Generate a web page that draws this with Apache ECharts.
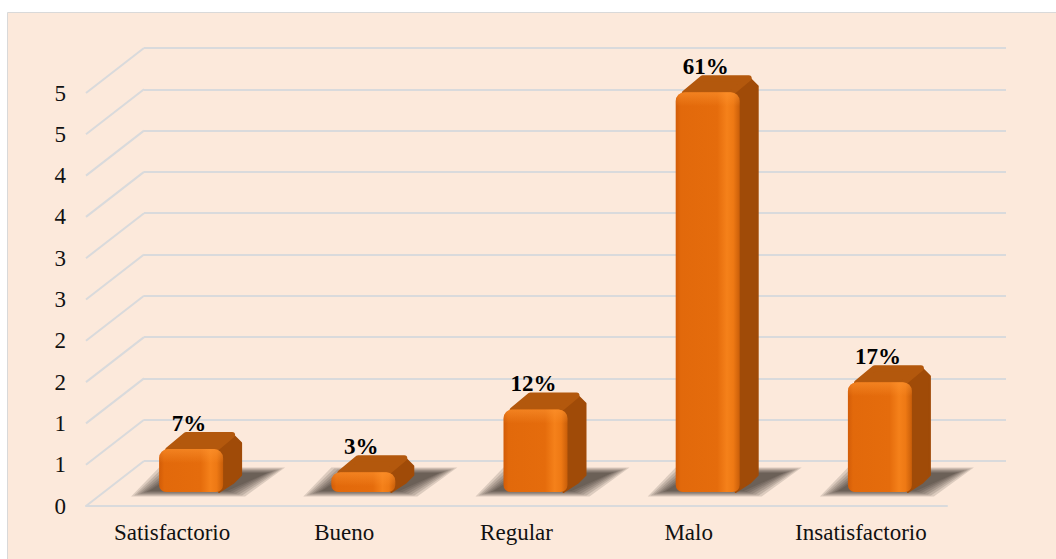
<!DOCTYPE html>
<html>
<head>
<meta charset="utf-8">
<script src="https://cdn.jsdelivr.net/npm/echarts@6/dist/echarts.min.js"></script>
<style>
html,body{margin:0;padding:0;background:#ffffff;}
#chart{width:1056px;height:559px;}
</style>
</head>
<body>
<div id="chart"></div>
<script>
const categories = ['Satisfactorio', 'Bueno', 'Regular', 'Malo', 'Insatisfactorio'];
const values = [0.52, 0.24, 1.0, 4.84, 1.33];
const pctLabels = ['7%', '3%', '12%', '61%', '17%'];
const gridTicks = [0, 0.5, 1, 1.5, 2, 2.5, 3, 3.5, 4, 4.5, 5];

const FONT = 'Liberation Serif, Times New Roman, serif';
const DEPTH_X = 58, DEPTH_Y = 45;      // wall-to-front oblique offset
const BAR_W = 64, SIDE_X = 18, SIDE_Y = -15;

const chart = echarts.init(document.getElementById('chart'), null, {renderer: 'svg'});

function renderDiag(params, api) {
  const p = api.coord([0, api.value(0)]);
  return {
    type: 'line',
    shape: {x1: p[0], y1: p[1], x2: p[0] - DEPTH_X, y2: p[1] + DEPTH_Y},
    style: {stroke: '#D9DADC', lineWidth: 2}
  };
}

function renderBar(params, api) {
  const i = api.value(0), v = api.value(1);
  const base = api.coord([i, 0]);
  const top = api.coord([i, v]);
  const x0 = base[0] - BAR_W / 2, x1 = x0 + BAR_W;
  const yb = base[1], yt = top[1];
  const h = yb - yt;
  const r = Math.min(9, h / 2);
  const children = [];
  // soft floor shadow (layered)
  for (let k = 6; k >= 0; k--) {
    const e = k * 3;
    children.push({
      type: 'polygon',
      shape: {points: [
        [x0 - 10 - e, yb - 1 + e * 0.3],
        [x1 + 4 + e, yb - 1 + e * 0.3],
        [x1 + SIDE_X + 26 + e, yb + SIDE_Y - 4 - e * 0.3],
        [x0 + SIDE_X - e, yb + SIDE_Y - 4 - e * 0.3]
      ]},
      style: {fill: 'rgba(40,34,30,0.15)'}
    });
  }
  // side face
  children.push({
    type: 'polygon',
    shape: {points: [[x1 - r, yt], [x1 - r + SIDE_X, yt + SIDE_Y], [x1 + SIDE_X, yt + SIDE_Y + r], [x1 + SIDE_X, yb + SIDE_Y - 2], [x1 + SIDE_X - 8, yb + SIDE_Y + 6], [x1 - 4, yb]]},
    style: {fill: '#A04B08', stroke: '#A04B08', lineWidth: 2, lineJoin: 'round'}
  });
  // top face
  children.push({
    type: 'polygon',
    shape: {points: [[x0 + r, yt + 1], [x0 + r + SIDE_X, yt + SIDE_Y + 1], [x1 - r + SIDE_X, yt + SIDE_Y + 1], [x1 - r, yt + 1]]},
    style: {fill: '#B3580D', stroke: '#B3580D', lineWidth: 6, lineJoin: 'round'}
  });
  // front face
  children.push({
    type: 'rect',
    shape: {x: x0, y: yt, width: BAR_W, height: h, r: [r, r, 7, 7]},
    style: {
      fill: new echarts.graphic.LinearGradient(0, 0, 1, 0, [
        {offset: 0, color: '#D25C08'},
        {offset: 0.08, color: '#E2690B'},
        {offset: 0.65, color: '#E56C0C'},
        {offset: 0.8, color: '#F5811A'},
        {offset: 0.9, color: '#EE7914'},
        {offset: 1, color: '#C95E09'}
      ])
    }
  });
  // top bevel highlight
  children.push({
    type: 'rect',
    shape: {x: x0, y: yt, width: BAR_W, height: Math.min(14, h), r: [r, r, 0, 0]},
    style: {
      fill: new echarts.graphic.LinearGradient(0, 0, 0, 1, [
        {offset: 0, color: 'rgba(255,150,50,0.55)'},
        {offset: 1, color: 'rgba(255,150,50,0)'}
      ])
    }
  });
  // value label
  children.push({
    type: 'text',
    style: {
      text: pctLabels[i], x: base[0] - 2, y: yt - 26,
      align: 'center', verticalAlign: 'middle',
      fontFamily: FONT, fontSize: 23, fontWeight: 'bold', fill: '#000000'
    }
  });
  return {type: 'group', children: children};
}

const option = {
  animation: false,
  backgroundColor: 'transparent',
  textStyle: {fontFamily: FONT},
  graphic: [{
    type: 'rect', z: -10, silent: true,
    shape: {x: 7.5, y: 12.5, width: 1100, height: 600},
    style: {fill: '#FCE9DB', stroke: '#D9D9D9', lineWidth: 1}
  }],
  grid: [
    {left: 86, right: 109, top: 93, bottom: 53},   // front plane (labels, floor edge)
    {left: 144, right: 50, top: 48, bottom: 98},   // back wall
    {left: 105, right: 90, top: 79, bottom: 67}    // bar plane
  ],
  xAxis: [
    {
      type: 'category', gridIndex: 0, data: categories,
      axisLine: {show: true, lineStyle: {color: '#D9DADC', width: 2}},
      axisTick: {show: false},
      axisLabel: {fontFamily: FONT, fontSize: 23, color: '#111111', margin: 15}
    },
    {type: 'value', gridIndex: 1, min: 0, max: 1, show: false},
    {type: 'category', gridIndex: 2, data: categories, show: false}
  ],
  yAxis: [
    {
      type: 'value', gridIndex: 0, min: 0, max: 5, interval: 0.5,
      axisLine: {show: false}, axisTick: {show: false}, splitLine: {show: false},
      axisLabel: {fontFamily: FONT, fontSize: 23, color: '#111111', margin: 20,
        formatter: function (v) { return String(Math.round(v)); }}
    },
    {
      type: 'value', gridIndex: 1, min: 0, max: 5, interval: 0.5,
      axisLine: {show: false}, axisTick: {show: false}, axisLabel: {show: false},
      splitLine: {show: true, lineStyle: {color: '#D9DADC', width: 2}}
    },
    {type: 'value', gridIndex: 2, min: 0, max: 5, show: false}
  ],
  series: [
    {
      type: 'custom', xAxisIndex: 1, yAxisIndex: 1, z: 1, silent: true,
      data: gridTicks.map(function (t) { return [t]; }),
      encode: {y: 0},
      renderItem: renderDiag
    },
    {
      type: 'custom', xAxisIndex: 2, yAxisIndex: 2, z: 5,
      data: values.map(function (v, i) { return [i, v]; }),
      encode: {x: 0, y: 1},
      renderItem: renderBar
    }
  ]
};
chart.setOption(option);
</script>
</body>
</html>
